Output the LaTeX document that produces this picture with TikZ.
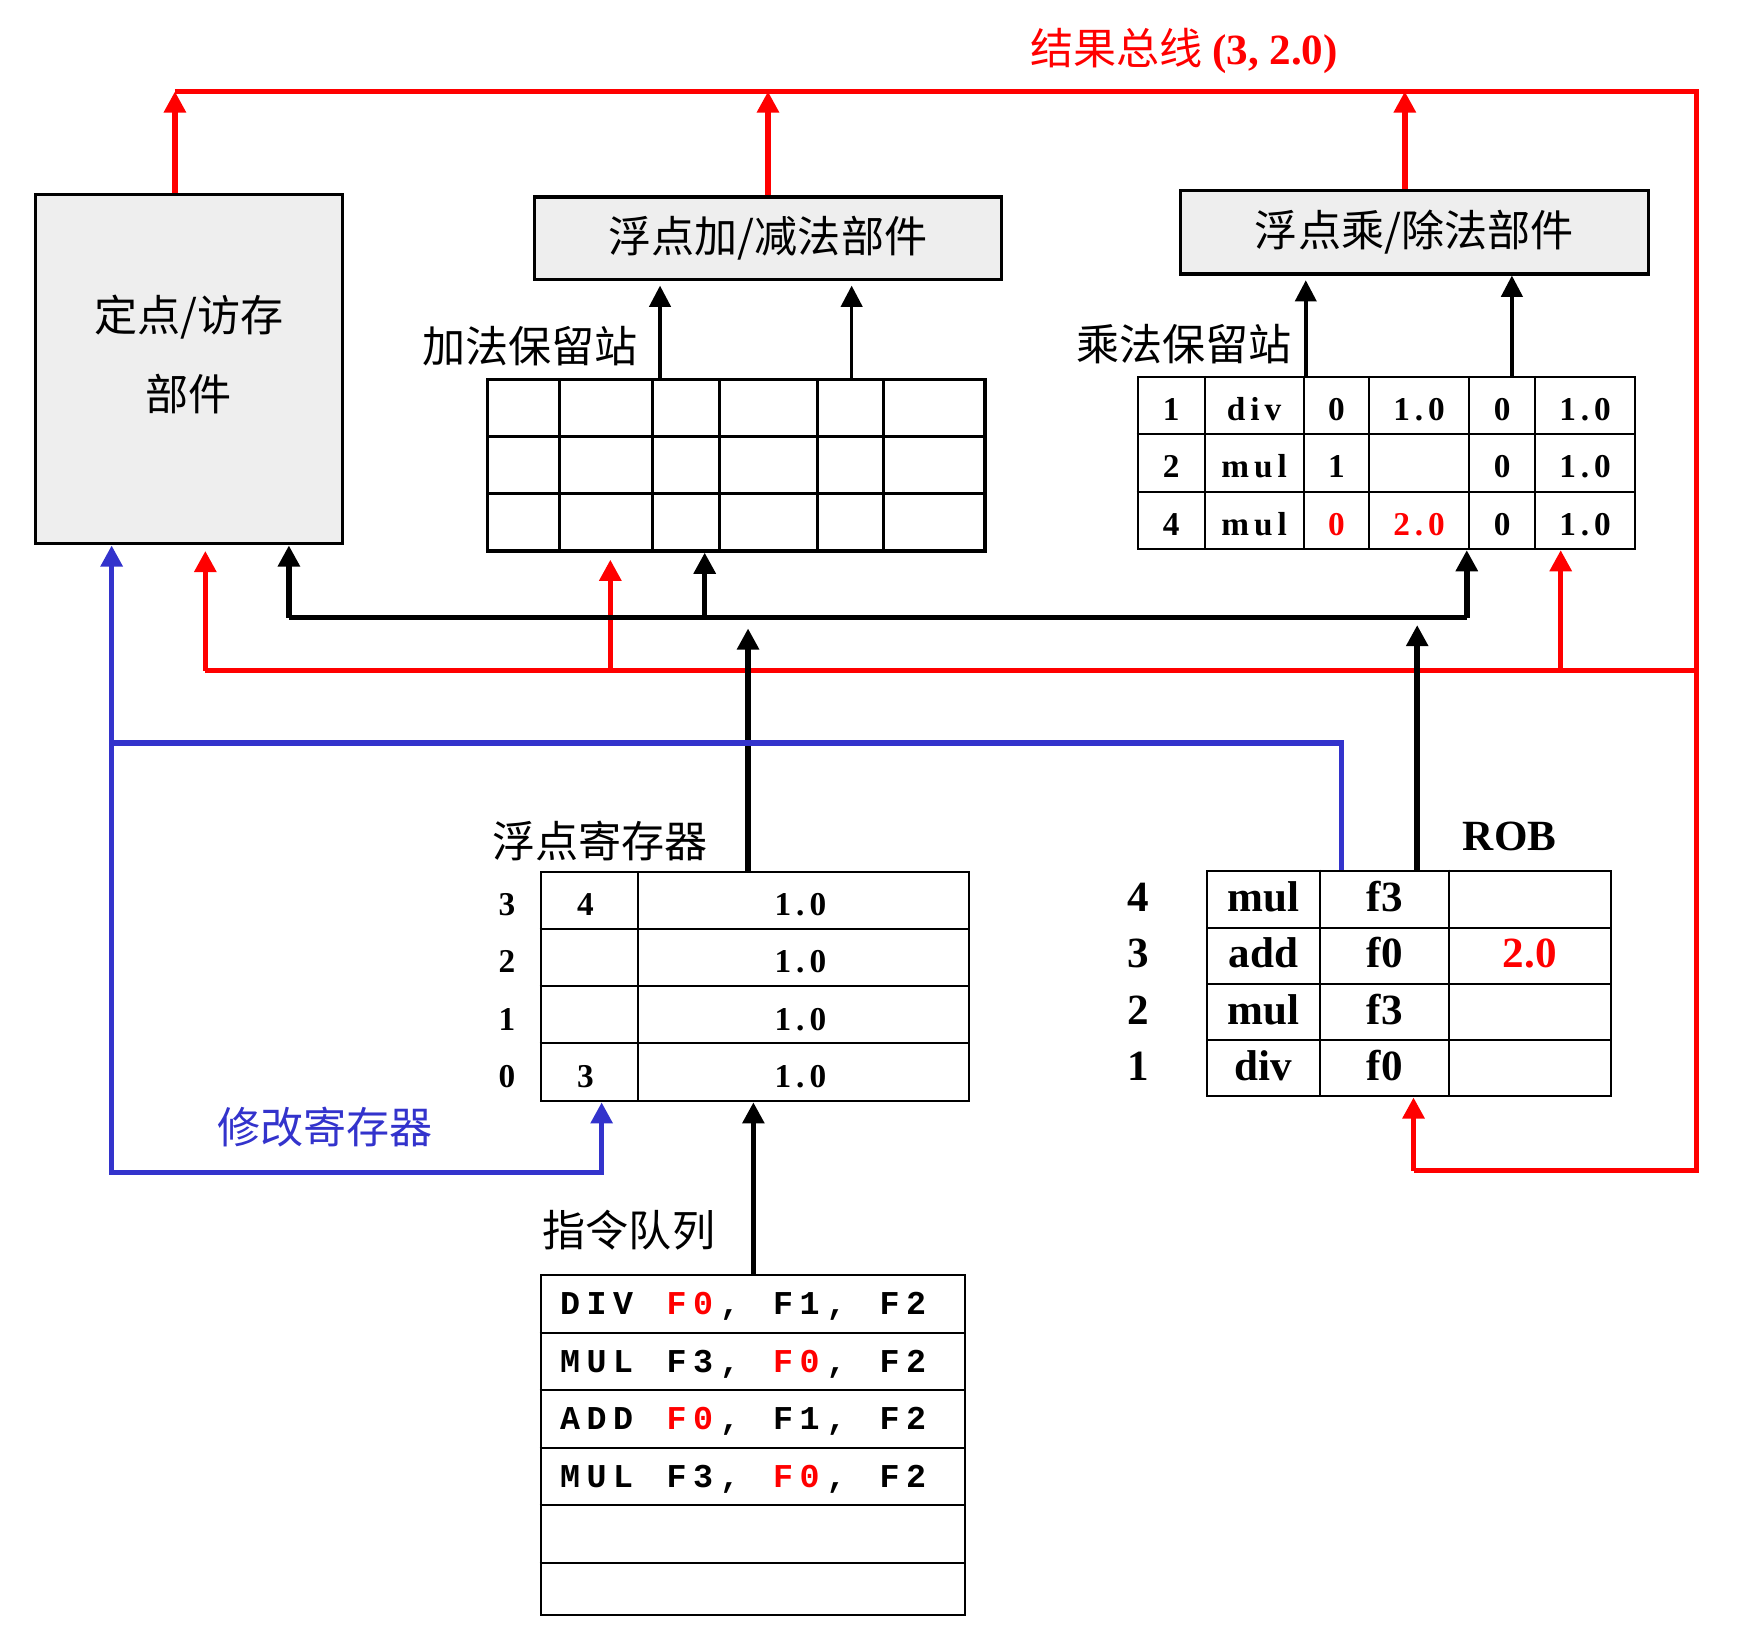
\documentclass[tikz,border=0pt]{standalone}
\usepackage{fontspec}
\setmainfont{Liberation Serif}
\newfontfamily\cjk{Noto Sans CJK SC}
\newfontfamily\codefont{Liberation Mono}[LetterSpace=19.9]
\newfontfamily\tabfont{Liberation Serif}[LetterSpace=15]
\usetikzlibrary{arrows.meta}
\definecolor{busred}{RGB}{255,0,0}
\definecolor{ctlblue}{RGB}{51,51,204}
\definecolor{fugray}{RGB}{238,238,238}

\begin{document}
\begin{tikzpicture}[x=0.01cm, y=-0.01cm,
  fubox/.style={draw, line width=0.8pt, fill=fugray, inner sep=0pt,
    font=\cjk\fontsize{11}{13}\selectfont},
  tablebox/.style={draw, line width=0.5pt, inner sep=0pt},
  cell/.style={line width=0.5pt},
  zh/.style={font=\cjk\fontsize{11}{13}\selectfont, inner sep=0pt},
  num/.style={font=\tabfont\bfseries\fontsize{8.5}{10}\selectfont, inner sep=0pt, anchor=base},
  rbtxt/.style={font=\bfseries\fontsize{11}{13}\selectfont, inner sep=0pt, anchor=base},
  code/.style={font=\codefont\bfseries\fontsize{8.5}{10}\selectfont, inner sep=0pt, anchor=base},
  pointy/.style={-{Triangle[length=0.19cm, width=0.19cm]}},
  bus/.style={line width=1.4pt},
  feed/.style={line width=0.9pt, pointy},
]
\useasboundingbox (0,0) rectangle (1568,1478);

% Functional units
\node[fubox, minimum width=2.75cm, minimum height=3.13cm] (lsu) at (169.5,331.5) {};
\node[zh, align=center, font=\cjk\fontsize{11}{20.2}\selectfont] (lsutext) at (169.5,318.5) {定点/访存\\部件};
\node[fubox, minimum width=4.194cm, minimum height=0.739cm] (addfu) at (689.3,213.75) {浮点加/减法部件};
\node[fubox, minimum width=4.195cm, minimum height=0.752cm] (mulfu) at (1269.35,208.3) {浮点乘/除法部件};

% Add reservation station
\node[zh] (addlbl) at (476,311) {加法保留站};
\node[tablebox, line width=0.8pt, minimum width=4.462cm, minimum height=1.535cm] (addrs) at (660.9,417.75) {};
\foreach \y in {391.5,443} \draw[cell, line width=0.8pt] (addrs.west |- 0,\y) -- (addrs.east |- 0,\y);
\foreach \x in {502,586,645.4,734,793} \draw[cell, line width=0.8pt] (\x,0 |- addrs.north) -- (\x,0 |- addrs.south);

% Mul reservation station
\node[zh] (mullbl) at (1063,309) {乘法保留站};
\node[tablebox, minimum width=4.462cm, minimum height=1.545cm] (mulrs) at (1244.2,415.55) {};
\foreach \y in {389.8,441.3} \draw[cell] (mulrs.west |- 0,\y) -- (mulrs.east |- 0,\y);
\foreach \x in {1081.2,1170,1229,1318.4,1378} \draw[cell] (\x,0 |- mulrs.north) -- (\x,0 |- mulrs.south);
\foreach \a/\b/\c/\d/\e/\f [count=\i] in {1/div/0/1.0/0/1.0, 2/mul/1//0/1.0,
    4/mul/\textcolor{busred}{0}/\textcolor{busred}{2.0}/0/1.0} {
  \node[num] at (1051.2,325.8+51.5*\i) {\a};
  \node[num] at (1125.6,325.8+51.5*\i) {\b};
  \node[num] at (1199.5,325.8+51.5*\i) {\c};
  \node[num] at (1273.7,325.8+51.5*\i) {\d};
  \node[num] at (1348.2,325.8+51.5*\i) {\e};
  \node[num] at (1422.7,325.8+51.5*\i) {\f};
}

% Floating point registers
\node[zh] (fprlbl) at (538.6,755) {浮点寄存器};
\node[tablebox, minimum width=3.846cm, minimum height=2.059cm] (fpr) at (677.7,885.45) {};
\foreach \y in {833.8,885,936.4} \draw[cell] (fpr.west |- 0,\y) -- (fpr.east |- 0,\y);
\draw[cell] (572.4,0 |- fpr.north) -- (572.4,0 |- fpr.south);
\foreach \r/\q [count=\i] in {3/4, 2/, 1/, 0/3} {
  \node[num] at (455,770+51.5*\i) {\r};
  \node[num] at (525.5,770+51.5*\i) {\q};
  \node[num] at (718.4,770+51.5*\i) {1.0};
}

% ROB
\node[rbtxt, anchor=center] (roblbl) at (1355,750.6) {ROB};
\node[tablebox, minimum width=3.625cm, minimum height=2.026cm] (rob) at (1264.75,882.7) {};
\foreach \y in {832.7,883.2,933.4} \draw[cell] (rob.west |- 0,\y) -- (rob.east |- 0,\y);
\foreach \x in {1184.8,1300.3} \draw[cell] (\x,0 |- rob.north) -- (\x,0 |- rob.south);
\foreach \n/\op/\dst/\val [count=\i] in {4/mul/f3/, 3/add/f0/\textcolor{busred}{2.0}, 2/mul/f3/, 1/div/f0/} {
  \node[rbtxt] at (1021.5,767.4+50.65*\i) {\n};
  \node[rbtxt] at (1134,767.4+50.65*\i) {\op};
  \node[rbtxt] at (1243,767.4+50.65*\i) {\dst};
  \node[rbtxt] at (1373,767.4+50.65*\i) {\val};
}

% Instruction queue
\node[zh] (iqlbl) at (564.5,1104) {指令队列};
\node[tablebox, minimum width=3.805cm, minimum height=3.052cm] (iq) at (675.55,1296.9) {};
\foreach \y in {1196.1,1247.8,1299.4,1351,1402.6} \draw[cell] (iq.west |- 0,\y) -- (iq.east |- 0,\y);
\foreach \op/\ra/\rb/\rc [count=\i] in {DIV/\textcolor{busred}{F0}/F1/F2, MUL/F3/\textcolor{busred}{F0}/F2,
    ADD/\textcolor{busred}{F0}/F1/F2, MUL/F3/\textcolor{busred}{F0}/F2} {
  \node[code] at (535.5,1128.6+51.6*\i) {\op};
  \node[code] at (619.2,1128.6+51.6*\i) {\ra};
  \node[code] at (655,1128.6+51.6*\i) {,};
  \node[code] at (714.8,1128.6+51.6*\i) {\rb};
  \node[code] at (750.6,1128.6+51.6*\i) {,};
  \node[code] at (810.4,1128.6+51.6*\i) {\rc};
}

% Result bus
\node[zh, text=busred] (restitle) at (1062.7,46) {结果总线 {\rmfamily\bfseries (3, 2.0)}};
\draw[bus, busred] (157,82) coordinate (resL) -- (1522.7,82) -- (1522.7,1050.6) -- (1268.7,1050.6) coordinate (robin);
\draw[bus, busred, pointy] (157,0 |- lsu.north) -- (157,0 |- resL);
\draw[bus, busred, pointy] (addfu.north) -- (addfu.north |- resL);
\draw[bus, busred, pointy] (1260.9,0 |- mulfu.north) -- (1260.9,0 |- resL);
\draw[bus, busred, pointy] (robin) -- (robin |- rob.south);
\draw[bus, busred] (184.3,602) coordinate (rsbL) -- (1522.7,602);
\draw[bus, busred, pointy, shorten >=1.4pt] (rsbL) -- (rsbL |- lsu.south);
\draw[bus, busred, pointy, shorten >=1.8pt] (547.8,602) -- (547.8,0 |- addrs.south);
\draw[bus, busred, pointy] (1400.8,602) -- (1400.8,0 |- mulrs.south);

% Operand bus
\draw[bus] (259.3,554.3) coordinate (cdbL) -- (1316.5,554.3) coordinate (cdbR);
\draw[bus, pointy] (cdbL) -- (cdbL |- lsu.south);
\draw[bus, pointy] (632.5,554.3) -- (632.5,0 |- addrs.south);
\draw[bus, pointy] (cdbR) -- (cdbR |- mulrs.south);
\draw[bus, pointy] (671.4,0 |- fpr.north) -- (671.4,564) coordinate (fprout);
\draw[bus, pointy] (1272,0 |- rob.north) -- (1272,561) coordinate (robout);
\draw[bus, pointy] (676.2,0 |- iq.north) -- (676.2,0 |- fpr.south);

% Register update
\draw[bus, ctlblue, pointy] (1204,0 |- rob.north) -- (1204,667) -- (100.2,667) coordinate (ctlL) -- (100.2,0 |- lsu.south);
\draw[bus, ctlblue, pointy] (ctlL) -- (100.2,1052.5) -- (540,1052.5) -- (540,0 |- fpr.south);
\node[zh, text=ctlblue] (ctllbl) at (292,1011.5) {修改寄存器};

% Stations to units
\draw[feed, shorten >=1.2pt] (592.4,0 |- addrs.north) -- (592.4,0 |- addfu.south);
\draw[feed, shorten >=1.2pt] (764.4,0 |- addrs.north) -- (764.4,0 |- addfu.south);
\draw[feed, shorten >=1.2pt] (1172,0 |- mulrs.north) -- (1172,0 |- mulfu.south);
\draw[feed] (1357,0 |- mulrs.north) -- (1357,0 |- mulfu.south);
\end{tikzpicture}
\end{document}
